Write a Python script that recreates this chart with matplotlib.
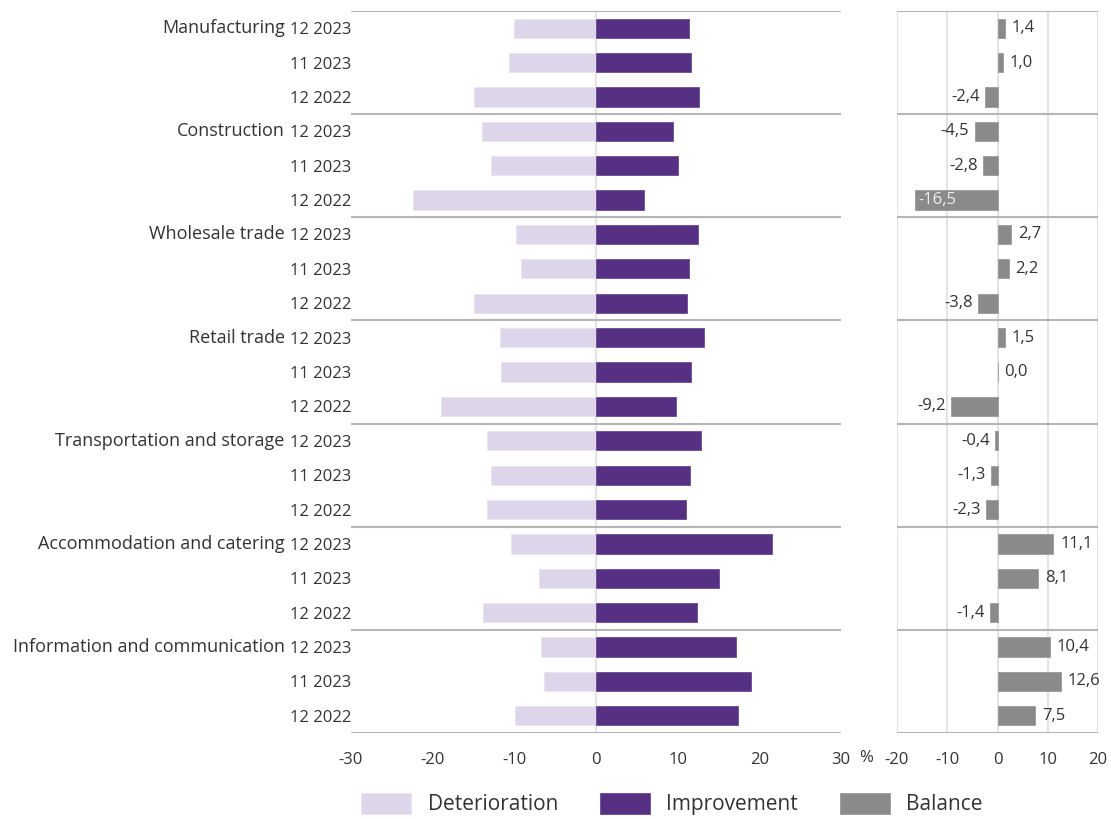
import matplotlib.pyplot as plt
import matplotlib as mpl
import numpy as np

plt.rcParams['font.family'] = ['Open Sans', 'DejaVu Sans']
plt.rcParams['axes.unicode_minus'] = False

sectors = ["Manufacturing", "Construction", "Wholesale trade", "Retail trade",
           "Transportation and storage", "Accommodation and catering",
           "Information and communication"]
periods = ["12 2023", "11 2023", "12 2022"]

deterioration = [-10.0, -10.6, -15.0,
                 -13.9, -12.8, -22.4,
                 -9.8, -9.2, -15.0,
                 -11.7, -11.6, -19.0,
                 -13.3, -12.8, -13.3,
                 -10.4, -7.0, -13.8,
                 -6.7, -6.4, -9.9]
improvement = [11.4, 11.6, 12.6,
               9.4, 10.0, 5.9,
               12.5, 11.4, 11.2,
               13.2, 11.6, 9.8,
               12.9, 11.5, 11.0,
               21.5, 15.1, 12.4,
               17.1, 19.0, 17.4]
balance = [1.4, 1.0, -2.4,
           -4.5, -2.8, -16.5,
           2.7, 2.2, -3.8,
           1.5, 0.0, -9.2,
           -0.4, -1.3, -2.3,
           11.1, 8.1, -1.4,
           10.4, 12.6, 7.5]

c_det = '#ddd6ea'
c_imp = '#563183'
c_bal = '#8a8a8a'
c_txt = '#333333'
c_sep = '#b5b5b5'
c_grid = '#e4e4e4'

W, H = 1111, 819
fig = plt.figure(figsize=(W / 100, H / 100), dpi=100)
ax = fig.add_axes([351 / W, (H - 733) / H, 490 / W, 722 / H])
ax2 = fig.add_axes([897 / W, (H - 733) / H, 201 / W, 722 / H])

n = len(balance)
y = np.arange(n)
bh = 0.56

ax.barh(y, deterioration, height=bh, color=c_det, edgecolor='#e8e3f0', lw=0.6,
        label="Deterioration", zorder=2)
ax.barh(y, improvement, height=bh, color=c_imp, edgecolor='#6a4a93', lw=0.6,
        label="Improvement", zorder=2)
ax2.barh(y, balance, height=bh, color=c_bal, edgecolor='#9a9a9a', lw=0.6,
         label="Balance", zorder=2)

for a, lim in ((ax, 30), (ax2, 20)):
    a.set_ylim(n - 0.5, -0.5)
    a.set_xlim(-lim, lim)
    for s in a.spines.values():
        s.set_visible(False)
    a.tick_params(length=0, labelsize=12, labelcolor=c_txt, pad=14)
    for g in range(len(sectors) + 1):
        a.axhline(g * 3 - 0.5, color=c_sep, lw=1.5, zorder=3)

ax.axvline(0, color=c_grid, lw=1.5, zorder=1)
ax.set_xticks(range(-30, 31, 10))
ax.set_yticks(y)
ax.set_yticklabels(periods * len(sectors))
ax.tick_params(axis='y', pad=0)

trans = mpl.transforms.blended_transform_factory(ax.transAxes, ax.transData)
for i, s in enumerate(sectors):
    ax.text(-0.135, i * 3, s, transform=trans, ha='right', va='center',
            fontsize=13, color=c_txt)

ax2.set_xticks(range(-20, 21, 10))
ax2.set_yticks([])
for gx in range(-20, 21, 10):
    ax2.axvline(gx, color=c_grid, lw=1.5, zorder=1)

fig.text(866 / W, (H - 758) / H, "%", ha='center', va='center', fontsize=12, color=c_txt)

for i, v in enumerate(balance):
    lbl = "{:.1f}".format(v).replace('.', ',')
    if v < -14:
        ax2.annotate(lbl, (v, i), xytext=(3, 0), textcoords='offset points',
                     ha='left', va='center', fontsize=12, color='#eeeeee', zorder=4)
    elif v < 0:
        ax2.annotate(lbl, (v, i), xytext=(-4, 0), textcoords='offset points',
                     ha='right', va='center', fontsize=12, color=c_txt, zorder=4)
    else:
        ax2.annotate(lbl, (v, i), xytext=(5, 0), textcoords='offset points',
                     ha='left', va='center', fontsize=12, color=c_txt, zorder=4)

handles = ax.get_legend_handles_labels()[0] + ax2.get_legend_handles_labels()[0]
fig.legend(handles, ["Deterioration", "Improvement", "Balance"], ncol=3,
           loc='center', bbox_to_anchor=(672 / W, (H - 804) / H), frameon=False,
           fontsize=15, handlelength=2.4, handleheight=1.2, columnspacing=2.0,
           handletextpad=0.8, labelcolor=c_txt)

fig.savefig("out.png", dpi=100)
